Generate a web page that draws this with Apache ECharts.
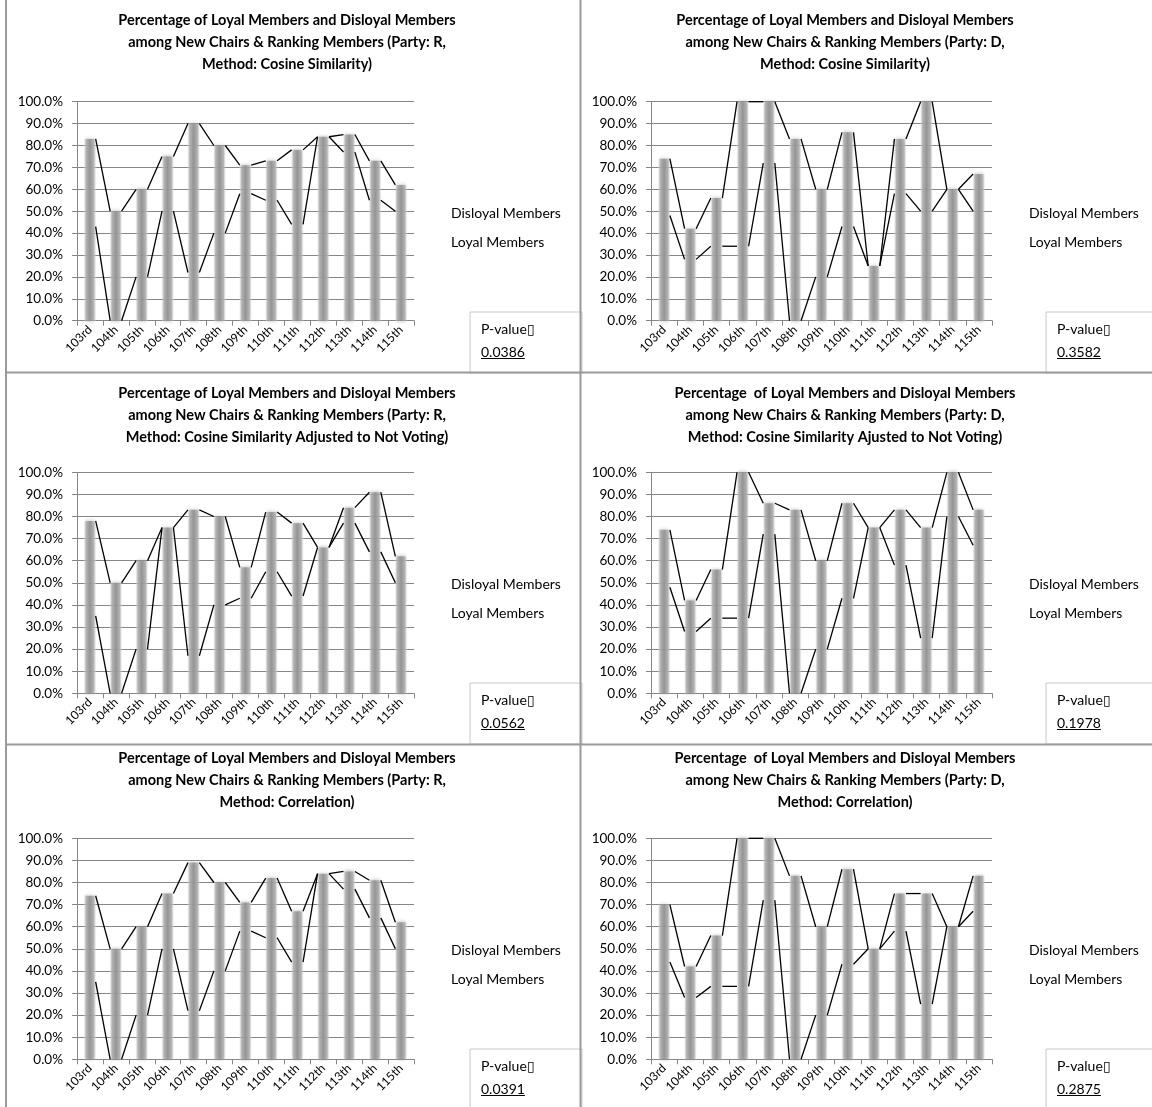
<!DOCTYPE html>
<html>
<head>
<meta charset="utf-8">
<script src="https://cdn.jsdelivr.net/npm/echarts@6/dist/echarts.min.js"></script>
<style>
  html, body { margin: 0; padding: 0; background: #fff; }
  #chart { width: 1152px; height: 1107px; }
</style>
</head>
<body>
<div id="chart"></div>
<script>
// Congress sessions on the category axis
const congresses = ['103rd', '104th', '105th', '106th', '107th', '108th', '109th',
                    '110th', '111th', '112th', '113th', '114th', '115th'];

// Share of loyal / disloyal members (percent), one pair per party & method
const rCosineLoyal       = [83, 50, 60, 75, 90, 80, 71, 73, 78, 84, 85, 73, 62];
const rCosineDisloyal    = [43, 0, 20, 50, 22, 40, 58, 55, 44, 84, 77, 55, 50];
const dCosineLoyal       = [74, 42, 56, 100, 100, 83, 60, 86, 25, 83, 100, 60, 67];
const dCosineDisloyal    = [48, 28, 34, 34, 72, 0, 20, 43, 25, 58, 50, 60, 50];
const rAdjustedLoyal     = [78, 50, 60, 75, 83, 80, 57, 82, 77, 66, 84, 91, 62];
const rAdjustedDisloyal  = [35, 0, 20, 75, 17, 40, 43, 55, 44, 66, 77, 64, 50];
const dAdjustedLoyal     = [74, 42, 56, 100, 86, 83, 60, 86, 75, 83, 75, 100, 83];
const dAdjustedDisloyal  = [48, 28, 34, 34, 72, 0, 20, 43, 75, 58, 25, 80, 67];
const rCorrLoyal         = [74, 50, 60, 75, 89, 80, 71, 82, 67, 84, 85, 81, 62];
const rCorrDisloyal      = [35, 0, 20, 50, 22, 40, 58, 55, 44, 84, 77, 64, 50];
const dCorrLoyal         = [70, 42, 56, 100, 100, 83, 60, 86, 50, 75, 75, 60, 83];
const dCorrDisloyal      = [44, 28, 33, 33, 72, 0, 20, 43, 50, 58, 25, 60, 67];

const pValues = ['0.0386', '0.3582', '0.0562', '0.1978', '0.0391', '0.2875'];

const chartTitles = [
  'Percentage of Loyal Members and Disloyal Members\namong New Chairs & Ranking Members (Party: R,\nMethod: Cosine Similarity)',
  'Percentage of Loyal Members and Disloyal Members\namong New Chairs & Ranking Members (Party: D,\nMethod: Cosine Similarity)',
  'Percentage of Loyal Members and Disloyal Members\namong New Chairs & Ranking Members (Party: R,\nMethod: Cosine Similarity Adjusted to Not Voting)',
  'Percentage  of Loyal Members and Disloyal Members\namong New Chairs & Ranking Members (Party: D,\nMethod: Cosine Similarity Ajusted to Not Voting)',
  'Percentage of Loyal Members and Disloyal Members\namong New Chairs & Ranking Members (Party: R,\nMethod: Correlation)',
  'Percentage  of Loyal Members and Disloyal Members\namong New Chairs & Ranking Members (Party: D,\nMethod: Correlation)'
];

const loyalSets    = [rCosineLoyal, dCosineLoyal, rAdjustedLoyal, dAdjustedLoyal, rCorrLoyal, dCorrLoyal];
const disloyalSets = [rCosineDisloyal, dCosineDisloyal, rAdjustedDisloyal, dAdjustedDisloyal, rCorrDisloyal, dCorrDisloyal];

// Page geometry of the 2 x 3 panel grid
const colPlotLeft  = [77, 651];
const colPlotWidth = [337, 341];
const colTitleX    = [287, 845];
const colLegendX   = [446, 1024];
const colBoxX      = [470, 1046];
const rowOffset    = [0, 371, 737];
const rowTitleTop  = [9, 382, 747];
const rowPlotTop   = [101.7, 472.3, 838.3];
const rowPlotH     = [219, 221, 221];

const FONT = 'Lato, "Open Sans", sans-serif';
const GRID_GRAY = '#868686';

const barFill = new echarts.graphic.LinearGradient(0, 0, 1, 0, [
  { offset: 0,    color: 'rgba(255,255,255,0)' },
  { offset: 0.2,  color: 'rgba(175,175,175,0.8)' },
  { offset: 0.5,  color: 'rgba(145,145,145,0.92)' },
  { offset: 0.8,  color: 'rgba(175,175,175,0.8)' },
  { offset: 1,    color: 'rgba(255,255,255,0)' }
]);

// Each line is drawn only in the gaps between columns: from the right edge
// of one column to the left edge of the next.
function gapSegments(values) {
  return function (params, api) {
    const i = params.dataIndex;
    if (i >= values.length - 1) return null;
    const half = api.size([1, 0])[0] * 0.22;
    const p0 = api.coord([i, values[i]]);
    const p1 = api.coord([i + 1, values[i + 1]]);
    return {
      type: 'line',
      shape: { x1: p0[0] + half, y1: p0[1], x2: p1[0] - half, y2: p1[1] },
      style: { stroke: '#000', lineWidth: 1.3 }
    };
  };
}

function textWidth(text, font) {
  return new echarts.graphic.Text({ style: { text: text, font: font } }).getBoundingRect().width;
}

const grids = [], xAxes = [], yAxes = [], series = [], titles = [], legends = [], graphics = [];
const PFONT = '14px ' + FONT;

for (let k = 0; k < 6; k++) {
  const col = k % 2, row = Math.floor(k / 2);
  const off = rowOffset[row];

  grids.push({
    left: colPlotLeft[col], top: rowPlotTop[row],
    width: colPlotWidth[col], height: rowPlotH[row]
  });
  xAxes.push({
    type: 'category', gridIndex: k, data: congresses, boundaryGap: true,
    axisLine: { lineStyle: { color: GRID_GRAY, width: 1 } },
    axisTick: { show: true, length: 5, lineStyle: { color: GRID_GRAY } },
    axisLabel: { rotate: 45, fontSize: 12, color: '#000', fontFamily: FONT, margin: 7, interval: 0 }
  });
  yAxes.push({
    type: 'value', gridIndex: k, min: 0, max: 100, interval: 10,
    axisLine: { show: true, lineStyle: { color: GRID_GRAY, width: 1 } },
    axisTick: { show: true, length: 5, lineStyle: { color: GRID_GRAY } },
    splitLine: { lineStyle: { color: GRID_GRAY, width: 1 } },
    axisLabel: { fontSize: 13.5, color: '#000', fontFamily: FONT, margin: 14,
                 formatter: v => v.toFixed(1) + '%' }
  });

  series.push({
    name: 'Loyal Members', type: 'bar', xAxisIndex: k, yAxisIndex: k,
    data: loyalSets[k], barWidth: 13, z: 2,
    itemStyle: { color: barFill, shadowBlur: 4, shadowColor: 'rgba(150,150,150,0.7)' }
  });
  series.push({
    name: 'Loyal Members', type: 'custom', xAxisIndex: k, yAxisIndex: k,
    data: loyalSets[k].map((v, i) => [i, v]), encode: { x: 0, y: 1 },
    renderItem: gapSegments(loyalSets[k]), z: 3
  });
  series.push({
    name: 'Disloyal Members', type: 'custom', xAxisIndex: k, yAxisIndex: k,
    data: disloyalSets[k].map((v, i) => [i, v]), encode: { x: 0, y: 1 },
    renderItem: gapSegments(disloyalSets[k]), z: 3
  });

  titles.push({
    text: chartTitles[k], left: colTitleX[col], top: rowTitleTop[row], textAlign: 'center', padding: 0,
    textStyle: { fontFamily: FONT, fontSize: 14.5, fontWeight: 'bold', color: '#000', lineHeight: 22 }
  });

  legends.push({
    data: ['Disloyal Members', 'Loyal Members'], orient: 'vertical',
    left: colLegendX[col], top: 206 + off, padding: 0,
    itemWidth: 0, itemHeight: 14, itemGap: 15, selectedMode: false,
    icon: 'rect', itemStyle: { color: 'rgba(0,0,0,0)', borderWidth: 0 },
    textStyle: { fontFamily: FONT, fontSize: 14, color: '#000' }
  });

  // P-value box
  const bx = colBoxX[col], by = 312 + off;
  const tx = bx + 11;
  graphics.push({
    type: 'rect', shape: { x: bx, y: by, width: 112, height: 61 },
    style: { fill: '#fff', stroke: '#c8c8c8', lineWidth: 1 }, z: 10
  });
  graphics.push({
    type: 'text', x: tx, y: by + 17, z: 11,
    style: { text: 'P-value\u25AF', font: PFONT, fill: '#000', verticalAlign: 'middle' }
  });
  graphics.push({
    type: 'text', x: tx, y: by + 40, z: 11,
    style: { text: pValues[k], font: PFONT, fill: '#000', verticalAlign: 'middle' }
  });
  graphics.push({
    type: 'line', z: 11,
    shape: { x1: tx, y1: by + 46.5, x2: tx + textWidth(pValues[k], PFONT), y2: by + 46.5 },
    style: { stroke: '#000', lineWidth: 1 }
  });
}

// Panel frame lines
const FRAME = '#9a9a9a';
[
  { x1: 6, y1: 0, x2: 6, y2: 1107 },
  { x1: 580.5, y1: 0, x2: 580.5, y2: 1107 },
  { x1: 6, y1: 372.5, x2: 1152, y2: 372.5 },
  { x1: 6, y1: 744.5, x2: 1152, y2: 744.5 }
].forEach(s => graphics.push({ type: 'line', shape: s, style: { stroke: FRAME, lineWidth: 2 }, z: 12 }));

const chart = echarts.init(document.getElementById('chart'), null, { renderer: 'canvas' });
chart.setOption({
  animation: false,
  backgroundColor: '#fff',
  title: titles,
  legend: legends,
  grid: grids,
  xAxis: xAxes,
  yAxis: yAxes,
  series: series,
  graphic: graphics
});
</script>
</body>
</html>
